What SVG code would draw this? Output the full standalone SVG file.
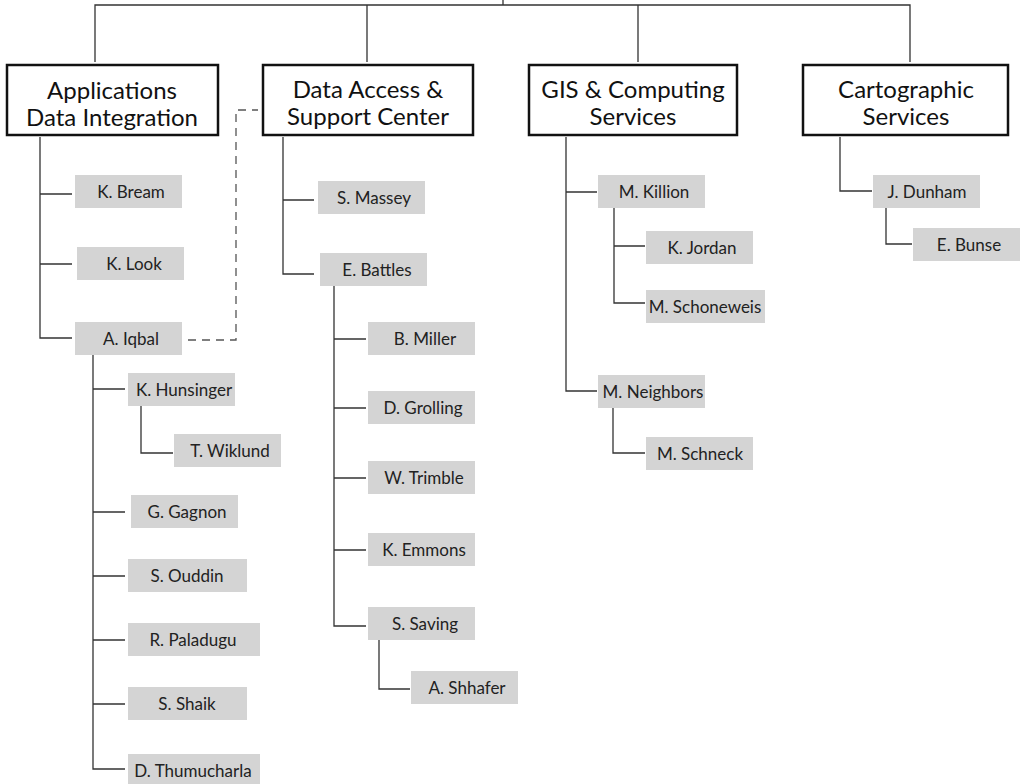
<svg xmlns="http://www.w3.org/2000/svg" width="1029" height="784" viewBox="0 0 1029 784">
<style>
.dept rect{fill:#fff;stroke:#111;stroke-width:2.5}
.dept text{font-family:Lato,"Liberation Sans",sans-serif;font-size:24px;fill:#111;text-anchor:middle}
.p rect{fill:#d4d4d4}
.p text{font-family:Lato,"Liberation Sans",sans-serif;font-size:17px;fill:#222;text-anchor:middle}
#connectors path{fill:none;stroke:#333;stroke-width:1.3}
#connectors path.dash{stroke:#555;stroke-dasharray:8,6}
</style>
<rect width="1029" height="784" fill="#fff"/>
<g id="connectors">
<path d="M503,0V5M95,62V5H910V62M367,5V62M638,5V62"/>
<path d="M40,137V338H72M40,194H72M40,264H72"/>
<path class="dash" d="M188,340H236V110H258"/>
<path d="M93,355V769H125M93,389H125M93,512H125M93,576H125M93,640H125M93,704H125"/>
<path d="M141,406V453H173"/>
<path d="M283,137V274H314M283,200H314"/>
<path d="M334,286V626H366M334,339H366M334,408H366M334,478H366M334,550H366"/>
<path d="M379,640V689H410"/>
<path d="M566,137V391H597M566,192H597"/>
<path d="M614,208V303H645M614,246H645"/>
<path d="M613,408V453H645"/>
<path d="M840,137V191H872"/>
<path d="M886,208V244H912"/>
</g>
<g id="dept1" class="dept"><rect x="7" y="65" width="211" height="70"/><text x="112" y="99">Applications</text><text x="112" y="126">Data Integration</text></g>
<g id="dept2" class="dept"><rect x="263" y="65" width="210" height="70"/><text x="368" y="98">Data Access &amp;</text><text x="368" y="125">Support Center</text></g>
<g id="dept3" class="dept"><rect x="529" y="65" width="208" height="70"/><text x="633" y="98">GIS &amp; Computing</text><text x="633" y="125">Services</text></g>
<g id="dept4" class="dept"><rect x="803" y="65" width="205" height="70"/><text x="906" y="98">Cartographic</text><text x="906" y="125">Services</text></g>

<g id="kbream" class="p"><rect x="75" y="175" width="107" height="33"/><text x="131" y="198">K. Bream</text></g>
<g id="klook" class="p"><rect x="77" y="247" width="107" height="33"/><text x="134" y="270">K. Look</text></g>
<g id="aiqbal" class="p"><rect x="75" y="322" width="107" height="33"/><text x="131" y="345">A. Iqbal</text></g>
<g id="khunsinger" class="p"><rect x="128" y="373" width="107" height="33"/><text x="184" y="396">K. Hunsinger</text></g>
<g id="twiklund" class="p"><rect x="174" y="434" width="107" height="33"/><text x="230" y="457">T. Wiklund</text></g>
<g id="ggagnon" class="p"><rect x="131" y="495" width="107" height="33"/><text x="187" y="518">G. Gagnon</text></g>
<g id="souddin" class="p"><rect x="128" y="559" width="119" height="33"/><text x="187" y="582">S. Ouddin</text></g>
<g id="rpaladugu" class="p"><rect x="128" y="623" width="132" height="33"/><text x="193" y="646">R. Paladugu</text></g>
<g id="sshaik" class="p"><rect x="128" y="687" width="119" height="33"/><text x="187" y="710">S. Shaik</text></g>
<g id="dthumucharla" class="p"><rect x="128" y="754" width="132" height="33"/><text x="193" y="777">D. Thumucharla</text></g>

<g id="smassey" class="p"><rect x="318" y="181" width="107" height="33"/><text x="374" y="204">S. Massey</text></g>
<g id="ebattles" class="p"><rect x="320" y="253" width="107" height="33"/><text x="377" y="276">E. Battles</text></g>
<g id="bmiller" class="p"><rect x="368" y="322" width="107" height="33"/><text x="425" y="345">B. Miller</text></g>
<g id="dgrolling" class="p"><rect x="368" y="391" width="107" height="33"/><text x="423" y="414">D. Grolling</text></g>
<g id="wtrimble" class="p"><rect x="368" y="461" width="107" height="33"/><text x="424" y="484">W. Trimble</text></g>
<g id="kemmons" class="p"><rect x="368" y="533" width="107" height="33"/><text x="424" y="556">K. Emmons</text></g>
<g id="ssaving" class="p"><rect x="368" y="607" width="107" height="33"/><text x="425" y="630">S. Saving</text></g>
<g id="ashhafer" class="p"><rect x="411" y="671" width="107" height="33"/><text x="467" y="694">A. Shhafer</text></g>

<g id="mkillion" class="p"><rect x="598" y="175" width="107" height="33"/><text x="654" y="198">M. Killion</text></g>
<g id="kjordan" class="p"><rect x="646" y="231" width="107" height="33"/><text x="702" y="254">K. Jordan</text></g>
<g id="mschoneweis" class="p"><rect x="646" y="290" width="119" height="33"/><text x="705" y="313">M. Schoneweis</text></g>
<g id="mneighbors" class="p"><rect x="598" y="375" width="107" height="33"/><text x="653" y="398">M. Neighbors</text></g>
<g id="mschneck" class="p"><rect x="646" y="437" width="107" height="33"/><text x="700" y="460">M. Schneck</text></g>

<g id="jdunham" class="p"><rect x="873" y="175" width="107" height="33"/><text x="927" y="198">J. Dunham</text></g>
<g id="ebunse" class="p"><rect x="913" y="228" width="107" height="33"/><text x="969" y="251">E. Bunse</text></g>
</svg>
